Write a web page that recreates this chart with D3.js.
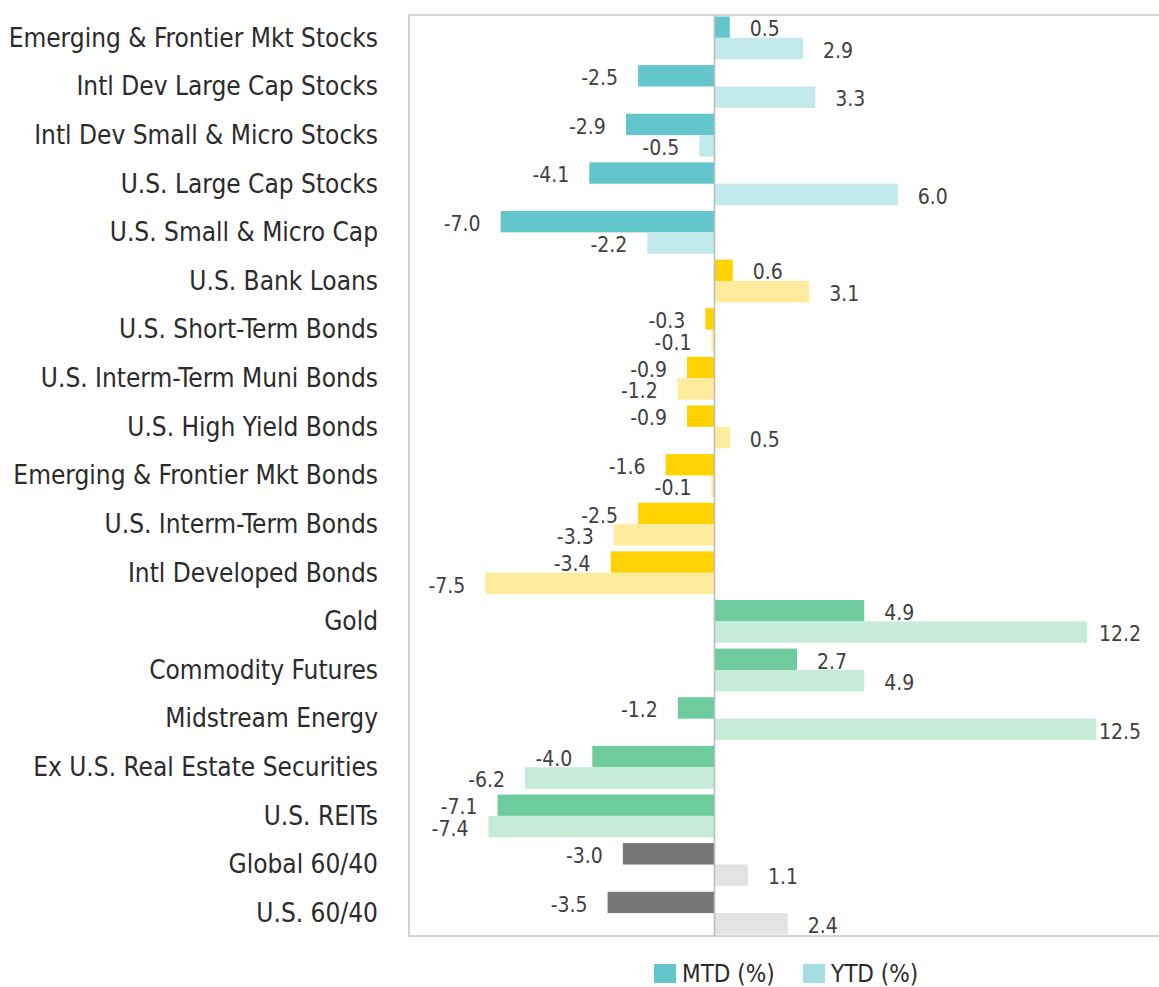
<!DOCTYPE html>
<html>
<head>
<meta charset="utf-8">
<script src="https://cdn.jsdelivr.net/npm/d3@7"></script>
<style>
  body { margin: 0; background: #fff; }
  svg text { font-family: "Liberation Sans Narrow", "DejaVu Sans Condensed", "Liberation Sans", sans-serif; }
</style>
</head>
<body>
<div id="chart"></div>
<script>
// asset classes, top to bottom
const categories = [
  'Emerging & Frontier Mkt Stocks', 'Intl Dev Large Cap Stocks', 'Intl Dev Small & Micro Stocks',
  'U.S. Large Cap Stocks', 'U.S. Small & Micro Cap', 'U.S. Bank Loans', 'U.S. Short-Term Bonds',
  'U.S. Interm-Term Muni Bonds', 'U.S. High Yield Bonds', 'Emerging & Frontier Mkt Bonds',
  'U.S. Interm-Term Bonds', 'Intl Developed Bonds', 'Gold', 'Commodity Futures', 'Midstream Energy',
  'Ex U.S. Real Estate Securities', 'U.S. REITs', 'Global 60/40', 'U.S. 60/40'
]
const mtd = [0.5, -2.5, -2.9, -4.1, -7.0, 0.6, -0.3, -0.9, -0.9, -1.6, -2.5, -3.4, 4.9, 2.7, -1.2, -4.0, -7.1, -3.0, -3.5]
const ytd = [2.9, 3.3, -0.5, 6.0, -2.2, 3.1, -0.1, -1.2, 0.5, -0.1, -3.3, -7.5, 12.2, 4.9, 12.5, -6.2, -7.4, 1.1, 2.4]
// which colour family each row belongs to
const groups = ['stocks', 'stocks', 'stocks', 'stocks', 'stocks',
  'bonds', 'bonds', 'bonds', 'bonds', 'bonds', 'bonds', 'bonds',
  'real', 'real', 'real', 'real', 'real', 'balanced', 'balanced']
const series = ['MTD (%)', 'YTD (%)']
const xDomain = [-10, 15]

const palette = {
  stocks:   ['#63c6cc', '#c2e9ec'],
  bonds:    ['#ffd200', '#ffeb9c'],
  real:     ['#6dcb9e', '#c6ebd8'],
  balanced: ['#777777', '#e3e3e3']
}
const legendColors = ['#63c6cc', '#a5dee0']

const w = 1159, h = 987
const plot = { left: 409, top: 15, bottom: 936 }
const pxPerUnit = 30.55

const fmt = d3.formatLocale({ decimal: '.', thousands: ',', grouping: [3], currency: ['$', ''], minus: '-' }).format('.1f')

const rows = categories.map((c, i) => ({ name: c, group: groups[i], vals: [mtd[i], ytd[i]] }))

const svg = d3.select('#chart').append('svg')
  .attr('width', w)
  .attr('height', h)

const x = d3.scaleLinear()
  .domain(xDomain)
  .range([plot.left, plot.left + (xDomain[1] - xDomain[0]) * pxPerUnit])

const y = d3.scaleBand()
  .domain(categories)
  .range([plot.top, plot.bottom])
  .paddingInner(0.12)
  .paddingOuter(0.03)

const ySub = d3.scaleBand()
  .domain([0, 1])
  .range([0, y.bandwidth()])

// plot frame (right edge falls outside the window)
svg.append('path')
  .attr('d', `M${x.range()[1]},${plot.top}H${plot.left}V${plot.bottom}H${x.range()[1]}`)
  .attr('fill', 'none')
  .attr('stroke', '#c9c9c9')
  .attr('stroke-width', 1.6)

const rowG = svg.selectAll('.row')
  .data(rows)
  .enter()
  .append('g')
  .attr('class', 'row')
  .attr('transform', d => `translate(0,${y(d.name)})`)

rowG.selectAll('rect')
  .data(d => d.vals.map((v, k) => ({ v, k, group: d.group })))
  .enter()
  .append('rect')
  .attr('x', d => x(Math.min(0, d.v)))
  .attr('y', d => ySub(d.k))
  .attr('width', d => Math.abs(x(d.v) - x(0)))
  .attr('height', ySub.bandwidth())
  .attr('fill', d => palette[d.group][d.k])

// zero line
svg.append('line')
  .attr('x1', x(0)).attr('x2', x(0))
  .attr('y1', plot.top).attr('y2', plot.bottom)
  .attr('stroke', '#bdbdbd')
  .attr('stroke-width', 1.6)

// value labels
rowG.selectAll('.val')
  .data(d => d.vals.map((v, k) => ({ v, k })))
  .enter()
  .append('text')
  .attr('class', 'val')
  .attr('y', d => ySub(d.k) + ySub.bandwidth() - 1.5)
  .attr('font-size', 21)
  .attr('fill', '#404040')
  .attr('text-anchor', d => d.v < 0 ? 'end' : 'start')
  .attr('x', d => d.v < 0 ? x(d.v) - 20 : x(d.v) + 20)
  .text(d => fmt(d.v))
  .each(function (d) {
    // keep labels inside the visible area like the original
    if (d.v >= 0) {
      const len = this.getComputedTextLength()
      const xPos = +d3.select(this).attr('x')
      if (xPos + len > 1141) d3.select(this).attr('x', 1141 - len)
    }
  })

// category labels
svg.selectAll('.cat')
  .data(categories)
  .enter()
  .append('text')
  .attr('class', 'cat')
  .attr('x', 378)
  .attr('y', d => y(d) + y.bandwidth() / 2)
  .attr('dy', '0.34em')
  .attr('text-anchor', 'end')
  .attr('font-size', 26)
  .attr('fill', '#2b2b2b')
  .text(d => d)

// legend
const legend = svg.append('g').attr('transform', 'translate(654,964)')
const legX = [0, 149]
series.forEach((s, i) => {
  legend.append('rect')
    .attr('x', legX[i]).attr('y', 0)
    .attr('width', 22).attr('height', 19)
    .attr('fill', legendColors[i])
  legend.append('text')
    .attr('x', legX[i] + 28).attr('y', 18)
    .attr('font-size', 24)
    .attr('fill', '#2b2b2b')
    .text(s)
})
</script>
</body>
</html>
